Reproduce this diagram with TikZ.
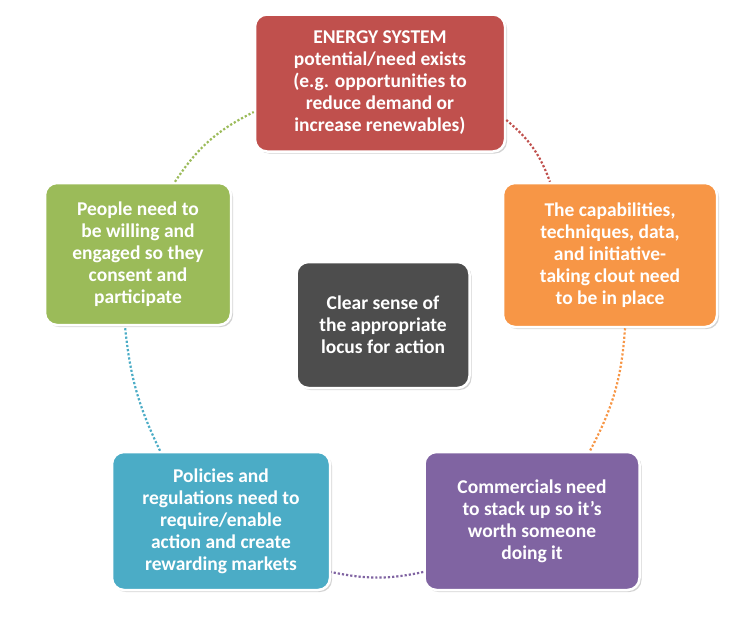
\documentclass[tikz,border=0pt]{standalone}
\usepackage{fontspec}
\setmainfont{Carlito}
\usepackage{tikz}
\usetikzlibrary{shadows}
\definecolor{boxred}{RGB}{192, 80, 77}
\definecolor{boxorange}{RGB}{247, 150, 70}
\definecolor{boxpurple}{RGB}{128, 100, 162}
\definecolor{boxteal}{RGB}{75, 172, 198}
\definecolor{boxgreen}{RGB}{155, 187, 89}
\definecolor{boxgray}{RGB}{77, 77, 77}
\begin{document}
\begin{tikzpicture}[x=1pt, y=-1pt,
    box/.style={rectangle, rounded corners=12pt, draw=white, line width=2.5pt, text=white,
        font=\bfseries\fontsize{19.5}{22}\selectfont, align=center, inner sep=2pt,
        drop shadow={shadow xshift=2pt, shadow yshift=-2pt, opacity=0.35}},
    link/.style={dotted, line width=2.2pt}
]
\useasboundingbox (0,0) rectangle (755,619);

% Outer ring of boxes
\node[box, fill=boxred, minimum width=250pt, minimum height=137pt] (energy) at (380,83)
    {ENERGY SYSTEM\\potential/need exists\\(e.g. opportunities to\\reduce demand or\\increase renewables)};
\node[box, fill=boxorange, minimum width=214pt, minimum height=144pt] (capab) at (610,255)
    {The capabilities,\\techniques, data,\\and initiative-\\taking clout need\\to be in place};
\node[box, fill=boxpurple, minimum width=215pt, minimum height=138pt] (commerce) at (532,521)
    {Commercials need\\to stack up so it's\\worth someone\\doing it};
\node[box, fill=boxteal, minimum width=218pt, minimum height=138pt] (policy) at (221,521)
    {Policies and\\regulations need to\\require/enable\\action and create\\rewarding markets};
\node[box, fill=boxgreen, minimum width=186pt, minimum height=142pt] (people) at (138,254)
    {People need to\\be willing and\\engaged so they\\consent and\\participate};

% Centre
\node[box, fill=boxgray, minimum width=173pt, minimum height=126pt] (locus) at (383,325)
    {Clear sense of\\the appropriate\\locus for action};

% Dotted ring
\draw[link, boxred] ([yshift=-37pt]energy.east) to[bend left=15] ([xshift=-60pt]capab.north);
\draw[link, boxorange] ([xshift=15pt]capab.south) to[bend left=12] ([xshift=58pt]commerce.north);
\draw[link, boxpurple] ([yshift=-51pt]commerce.west) to[bend left=12] ([yshift=-51pt]policy.east);
\draw[link, boxteal] ([xshift=-61pt]policy.north) to[bend left=10] ([xshift=-13pt]people.south);
\draw[link, boxgreen] ([xshift=37pt]people.north) to[bend left=15] ([yshift=-29pt]energy.west);
\end{tikzpicture}
\end{document}
